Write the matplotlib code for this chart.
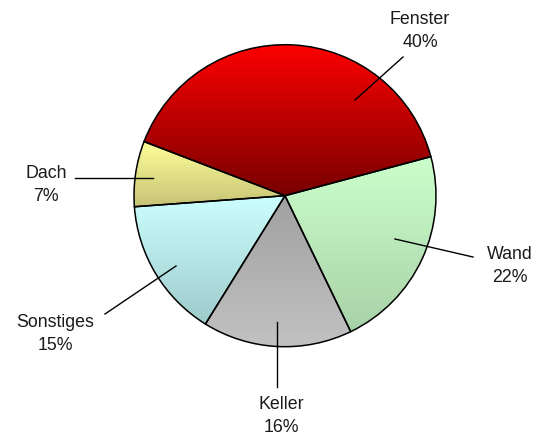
import numpy as np
import matplotlib
matplotlib.use("Agg")
import matplotlib.pyplot as plt
from matplotlib.colors import LinearSegmentedColormap

labels = ["Fenster", "Wand", "Keller", "Sonstiges", "Dach"]
shares = [40, 22, 16, 15, 7]

# vertical gradient per wedge: colour at top, colour at bottom
top_colors = ["#ff0000", "#ccffcc", "#a0a0a0", "#ccffff", "#ffff99"]
bottom_colors = ["#780000", "#a8d2a8", "#c2c2c2", "#9ecaca", "#c6c276"]

# layout in pixels of the 550x435 canvas (pie centre 285,197, radius 151)
CX, CY, R = 285.0, 196.7, 151.0
label_pos = [(420, 31), (510, 266), (281, 416), (55, 334), (46, 185)]
line_start = [(355, 101), (395, 240), (277, 323), (176, 267), (153, 179)]
line_end = [(403, 58), (473, 258), (277, 388), (105, 315), (75, 179)]


def px(p):
    return ((p[0] - CX) / R, (CY - p[1]) / R)


plt.rcParams['font.family'] = ['Liberation Sans', 'DejaVu Sans']

fig = plt.figure(figsize=(5.5, 4.35), dpi=100)
ax = fig.add_axes([0, 0, 1, 1])

wedges, _ = ax.pie(shares, startangle=159, counterclock=False, radius=1,
                   wedgeprops=dict(edgecolor="black", linewidth=1.1, facecolor="none"))

for w, c0, c1 in zip(wedges, top_colors, bottom_colors):
    verts = w.get_path().vertices
    y0, y1 = verts[:, 1].min(), verts[:, 1].max()
    x0, x1 = verts[:, 0].min(), verts[:, 0].max()
    cmap = LinearSegmentedColormap.from_list("g", [c1, c0])
    grad = np.linspace(0, 1, 256).reshape(-1, 1)
    im = ax.imshow(grad, cmap=cmap, extent=(x0, x1, y0, y1), origin="lower",
                   aspect="auto", zorder=0.5, interpolation="bilinear")
    im.set_clip_path(w)
    w.set_zorder(1)

for lab, s, lp, a, b in zip(labels, shares, label_pos, line_start, line_end):
    xa, ya = px(a)
    xb, yb = px(b)
    ax.plot([xa, xb], [ya, yb], color="black", lw=1.0, zorder=2)
    tx, ty = px(lp)
    ax.text(tx, ty, f"{lab}\n{s}%", ha="center", va="center", fontsize=12.8,
            color="#1a1a1a", linespacing=1.5)

ax.set_xlim(-CX / R, (550 - CX) / R)
ax.set_ylim(-(435 - CY) / R, CY / R)
ax.set_aspect("auto")
ax.axis("off")

fig.savefig("out.png", dpi=100, facecolor="white")
